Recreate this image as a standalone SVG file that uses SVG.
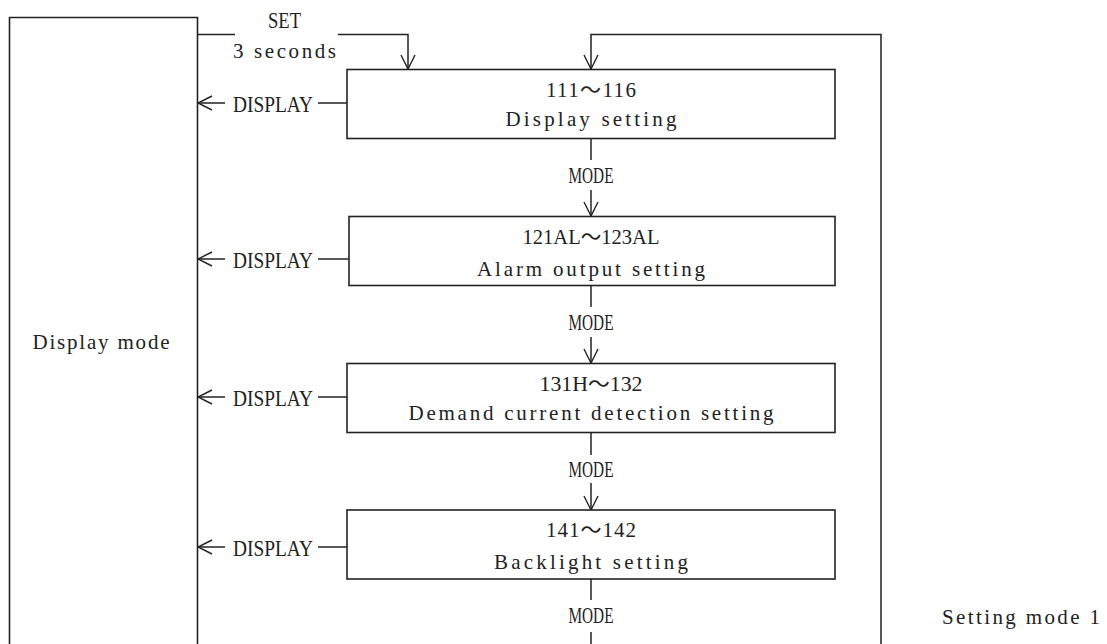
<svg xmlns="http://www.w3.org/2000/svg" width="1107" height="644" viewBox="0 0 1107 644">
<defs>
<style>
text{font-family:"Liberation Serif","Noto Sans CJK JP",serif;font-size:21px;fill:#222;}
.c{text-anchor:middle;}
.k{font-size:23px;}
.box{fill:#fff;stroke:#222;stroke-width:1.6;}
.ln{fill:none;stroke:#222;stroke-width:1.5;}
</style>
<marker id="ah" viewBox="0 0 16 16" refX="15" refY="8" markerWidth="16" markerHeight="16" markerUnits="userSpaceOnUse" orient="auto">
<path d="M1,1 L15,8 L1,15" fill="none" stroke="#222" stroke-width="1.4"/>
</marker>
</defs>
<rect width="1107" height="644" fill="#fff"/>

<g id="display-mode">
<path class="ln" d="M9.5,650 V17.5 H197.5 V650" style="stroke-width:1.6"/>
<text class="c" x="101" y="349" textLength="137" lengthAdjust="spacing">Display mode</text>
</g>

<g id="connectors">
<path class="ln" d="M197.5,34.5 H235"/>
<path class="ln" d="M338,34.5 H408 V69" marker-end="url(#ah)"/>
<path class="ln" d="M881,650 V34.5 H591 V69" marker-end="url(#ah)"/>
<path class="ln" d="M225,103 H198" marker-end="url(#ah)"/>
<path class="ln" d="M318,103 H347"/>
<path class="ln" d="M225,259 H198" marker-end="url(#ah)"/>
<path class="ln" d="M318,259 H349"/>
<path class="ln" d="M225,397 H198" marker-end="url(#ah)"/>
<path class="ln" d="M318,397 H347"/>
<path class="ln" d="M225,547 H198" marker-end="url(#ah)"/>
<path class="ln" d="M318,547 H347"/>
<path class="ln" d="M591,138 V160"/>
<path class="ln" d="M591,190 V216" marker-end="url(#ah)"/>
<path class="ln" d="M591,286 V307"/>
<path class="ln" d="M591,337 V363" marker-end="url(#ah)"/>
<path class="ln" d="M591,433 V455"/>
<path class="ln" d="M591,483 V510" marker-end="url(#ah)"/>
<path class="ln" d="M591,579 V600"/>
<path class="ln" d="M591,632 V650"/>
<text class="c k" x="284.5" y="28" textLength="33" lengthAdjust="spacingAndGlyphs">SET</text>
<text class="c" x="284.5" y="58" textLength="103" lengthAdjust="spacing">3 seconds</text>
<text class="c k" x="273" y="112" textLength="80" lengthAdjust="spacingAndGlyphs">DISPLAY</text>
<text class="c k" x="273" y="268" textLength="80" lengthAdjust="spacingAndGlyphs">DISPLAY</text>
<text class="c k" x="273" y="406" textLength="80" lengthAdjust="spacingAndGlyphs">DISPLAY</text>
<text class="c k" x="273" y="556" textLength="80" lengthAdjust="spacingAndGlyphs">DISPLAY</text>
<text class="c k" x="591" y="183" textLength="45" lengthAdjust="spacingAndGlyphs">MODE</text>
<text class="c k" x="591" y="330" textLength="45" lengthAdjust="spacingAndGlyphs">MODE</text>
<text class="c k" x="591" y="477" textLength="45" lengthAdjust="spacingAndGlyphs">MODE</text>
<text class="c k" x="591" y="623" textLength="45" lengthAdjust="spacingAndGlyphs">MODE</text>
</g>

<g id="node1">
<rect class="box" x="347" y="69.5" width="488" height="69"/>
<text class="c" x="591" y="97" textLength="90" lengthAdjust="spacing">111～116</text>
<text class="c" x="591" y="126" textLength="171" lengthAdjust="spacing">Display setting</text>
</g>
<g id="node2">
<rect class="box" x="349" y="216.5" width="486" height="69"/>
<text class="c" x="591" y="244" textLength="137" lengthAdjust="spacingAndGlyphs">121AL～123AL</text>
<text class="c" x="591" y="276" textLength="228" lengthAdjust="spacing">Alarm output setting</text>
</g>
<g id="node3">
<rect class="box" x="347" y="363.5" width="488" height="69"/>
<text class="c" x="591" y="391" textLength="103" lengthAdjust="spacingAndGlyphs">131H～132</text>
<text class="c" x="591" y="420" textLength="365" lengthAdjust="spacing">Demand current detection setting</text>
</g>
<g id="node4">
<rect class="box" x="347" y="510" width="488" height="69"/>
<text class="c" x="591" y="537" textLength="90" lengthAdjust="spacing">141～142</text>
<text class="c" x="591" y="569" textLength="194" lengthAdjust="spacing">Backlight setting</text>
</g>

<g id="label-setting-mode">
<text x="942" y="624" textLength="158" lengthAdjust="spacing">Setting mode 1</text>
</g>
</svg>
